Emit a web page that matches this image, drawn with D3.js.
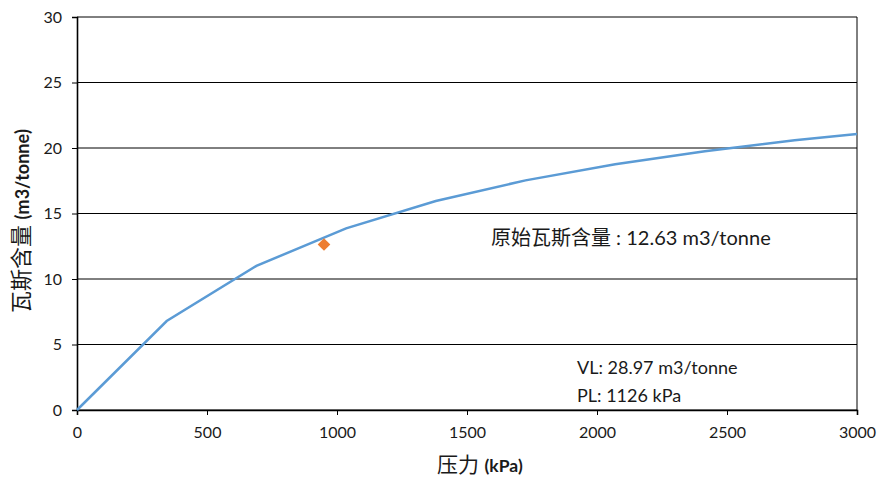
<!DOCTYPE html>
<html>
<head>
<meta charset="utf-8">
<script src="https://cdn.jsdelivr.net/npm/d3@7"></script>
<style>
  body { margin: 0; background: #fff; }
  text { font-family: Lato, "Open Sans", "Noto Sans CJK SC", sans-serif; fill: #1a1a1a; }
</style>
</head>
<body>
<div id="chart"></div>
<script>
// values
const pressure = [0, 345, 690, 1035, 1380, 1725, 2070, 2415, 2760, 3000];
const content = [0, 6.79, 11.0, 13.87, 15.95, 17.53, 18.76, 19.76, 20.6, 21.06];
const measured = [{ p: 950, v: 12.63 }];
const xTicks = [0, 500, 1000, 1500, 2000, 2500, 3000];
const yTicks = [0, 5, 10, 15, 20, 25, 30];

const width = 880, height = 479;
const margin = { left: 77, right: 23, top: 17, bottom: 69 };

const svg = d3.select("#chart").append("svg")
  .attr("width", width)
  .attr("height", height);

const x = d3.scaleLinear().domain([0, 3000]).range([margin.left, width - margin.right]);
const y = d3.scaleLinear().domain([0, 30]).range([height - margin.bottom, margin.top]);

// horizontal gridlines
svg.append("g")
  .selectAll("line")
  .data(yTicks)
  .join("line")
  .attr("x1", x(0)).attr("x2", x(3000))
  .attr("y1", d => y(d)).attr("y2", d => y(d))
  .attr("stroke", "#000")
  .attr("stroke-width", 1);

// right border
svg.append("line")
  .attr("x1", x(3000)).attr("x2", x(3000))
  .attr("y1", y(30)).attr("y2", y(0))
  .attr("stroke", "#000");

// axes
const xAxis = svg.append("g")
  .attr("transform", `translate(0,${y(0)})`)
  .call(d3.axisBottom(x).tickValues(xTicks).tickSize(5).tickPadding(12).tickFormat(d3.format("d")));
const yAxis = svg.append("g")
  .attr("transform", `translate(${x(0)},0)`)
  .call(d3.axisLeft(y).tickValues(yTicks).tickSize(5).tickPadding(10));

[xAxis, yAxis].forEach(a => {
  a.select(".domain").attr("stroke", "#000").attr("stroke-width", 1.6);
  a.selectAll(".tick line").attr("stroke", "#000");
  a.selectAll(".tick text")
    .attr("font-size", 16)
    .attr("fill", "#333")
    .attr("font-family", "Lato, 'Open Sans', sans-serif");
});

// isotherm curve
const line = d3.line()
  .x((d, i) => x(pressure[i]))
  .y(d => y(d));

svg.append("path")
  .datum(content)
  .attr("d", line)
  .attr("fill", "none")
  .attr("stroke", "#5B9BD5")
  .attr("stroke-width", 2.5);

// measured point: square turned 45 degrees
svg.append("g")
  .selectAll("path")
  .data(measured)
  .join("path")
  .attr("d", d3.symbol().type(d3.symbolSquare).size(80))
  .attr("transform", d => `translate(${x(d.p)},${y(d.v)}) rotate(45)`)
  .attr("fill", "#ED7D31");

// annotations
svg.append("text")
  .attr("x", 491).attr("y", 245)
  .attr("font-size", 20)
  .text("原始瓦斯含量 : 12.63 m3/tonne");

svg.append("text")
  .attr("x", 577).attr("y", 374)
  .attr("font-size", 18)
  .text("VL: 28.97 m3/tonne");

svg.append("text")
  .attr("x", 577).attr("y", 402)
  .attr("font-size", 18)
  .text("PL: 1126 kPa");

// axis titles
const xt = svg.append("text")
  .attr("x", 480)
  .attr("y", 472)
  .attr("text-anchor", "middle")
  .attr("font-size", 21);
xt.append("tspan").text("压力 ");
xt.append("tspan").attr("font-weight", "bold").attr("font-size", 17.5).text("(kPa)");

const yt = svg.append("text")
  .attr("transform", `translate(29,221) rotate(-90)`)
  .attr("text-anchor", "middle")
  .attr("font-size", 22);
yt.append("tspan").text("瓦斯含量 ");
yt.append("tspan").attr("font-weight", "bold").attr("font-size", 18).text("(m3/tonne)");
</script>
</body>
</html>
